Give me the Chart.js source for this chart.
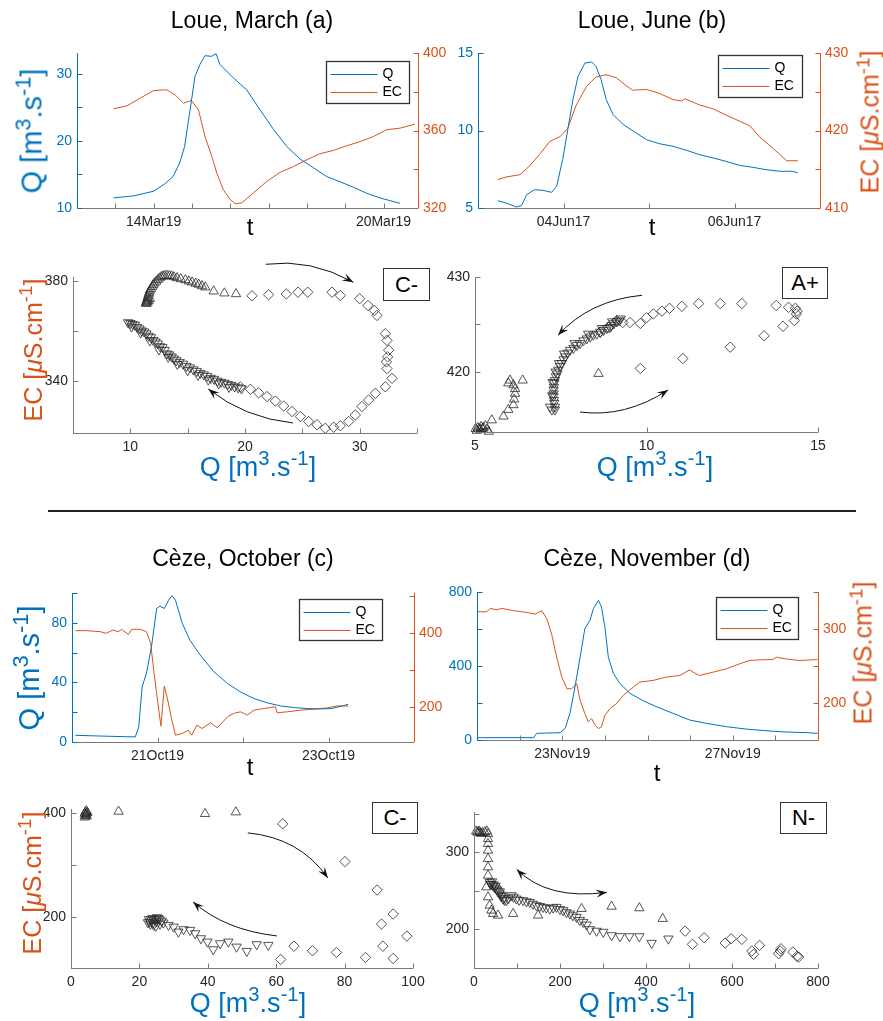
<!DOCTYPE html>
<html>
<head>
<meta charset="utf-8">
<script src="https://cdn.jsdelivr.net/npm/chart.js@4.4.1/dist/chart.umd.min.js"></script>
<style>
  body { margin: 0; background: #fff; }
  #fig { position: relative; width: 883px; height: 1021px; overflow: hidden; font-family: "Liberation Sans", Arial, sans-serif; }
  #fig canvas { position: absolute; }
  .txt { position: absolute; white-space: nowrap; transform: translate(-50%, -50%); line-height: 1; }
  .rot { transform: translate(-50%, -50%) rotate(-90deg); }
  .txt sup { font-size: 0.75em; vertical-align: 0.5em; line-height: 0; }
  .tag { position: absolute; border: 1px solid #333; background: #fff; font-size: 22px; display: flex; align-items: center; justify-content: center; box-sizing: border-box; }
</style>
</head>
<body>
<div id="fig"></div>
<script>
// ---- data ----
// time series: [day, value]
const marchQ = [[12.95,11.5],[13.47,11.8],[14.0,12.5],[14.29,13.6],[14.51,14.7],[14.68,16.7],[14.81,19.2],[14.9,22.7],[14.99,26.1],[15.08,29.6],[15.21,31.4],[15.34,32.7],[15.51,32.6],[15.63,33.0],[15.73,31.4],[16.08,29.4],[16.43,27.6],[16.78,24.6],[17.13,21.7],[17.47,19.2],[17.82,17.3],[18.17,16.0],[18.51,14.7],[18.87,13.9],[19.21,13.1],[19.56,12.2],[19.91,11.5],[20.43,10.7]];
const marchEC = [[12.95,371.2],[13.3,372.7],[13.65,376.7],[14.0,380.6],[14.34,381.0],[14.56,378.4],[14.78,374.1],[14.98,375.5],[15.17,370.7],[15.34,356.9],[15.52,346.6],[15.65,338.0],[15.82,329.4],[16.0,324.3],[16.13,322.2],[16.3,322.6],[16.6,327.7],[16.95,333.7],[17.3,338.4],[17.65,341.4],[18.0,344.9],[18.34,348.0],[18.69,349.7],[19.04,352.1],[19.39,354.3],[19.74,356.9],[20.08,360.4],[20.43,361.2],[20.82,363.3]];

const juneQ = [[3.23,5.47],[3.33,5.32],[3.45,5.06],[3.51,5.17],[3.57,5.86],[3.66,6.18],[3.76,6.14],[3.86,6.01],[3.92,6.4],[3.99,8.12],[4.05,10.05],[4.11,11.99],[4.17,13.49],[4.25,14.35],[4.33,14.42],[4.38,14.14],[4.44,13.28],[4.5,11.99],[4.58,11.02],[4.7,10.38],[4.85,9.84],[4.97,9.41],[5.12,9.15],[5.28,8.98],[5.44,8.72],[5.59,8.44],[5.75,8.23],[5.9,8.01],[6.06,7.75],[6.22,7.62],[6.37,7.47],[6.53,7.37],[6.68,7.37],[6.74,7.26]];
const juneEC = [[3.23,413.66],[3.33,414.0],[3.49,414.3],[3.6,415.4],[3.72,416.9],[3.84,418.6],[3.96,419.2],[4.05,420.3],[4.15,423.3],[4.27,425.7],[4.38,426.9],[4.5,427.2],[4.62,426.8],[4.73,425.8],[4.81,425.2],[4.97,425.3],[5.12,424.8],[5.28,424.0],[5.38,423.8],[5.42,424.1],[5.59,423.3],[5.75,422.8],[5.9,422.0],[6.06,421.2],[6.18,420.6],[6.29,419.2],[6.45,417.7],[6.61,416.1],[6.74,416.1]];

const octQ = [[20.04,4.5],[20.33,4.0],[20.74,3.4],[20.78,10],[20.82,37],[20.87,46],[20.93,64],[20.99,89.6],[21.03,91.2],[21.08,89.6],[21.13,95.2],[21.17,98.2],[21.21,95.2],[21.29,79.6],[21.38,68.3],[21.5,58.3],[21.66,47.1],[21.82,39.2],[21.97,33.6],[22.13,29.1],[22.29,26.2],[22.44,24.2],[22.6,23.1],[22.76,22.4],[22.91,22.2],[23.03,22.4],[23.15,24.0],[23.23,25.3]];
const octEC = [[20.04,405.4],[20.17,405.4],[20.33,402.7],[20.4,398.2],[20.48,407.2],[20.54,402.7],[20.58,409.0],[20.62,401.8],[20.66,395.5],[20.7,409.0],[20.8,409.0],[20.87,402.7],[20.92,371.2],[20.96,290.1],[21.0,218.0],[21.04,147.7],[21.08,255.9],[21.12,218.0],[21.16,173.0],[21.21,123.4],[21.29,127.9],[21.36,136.9],[21.4,123.4],[21.46,150.5],[21.52,141.4],[21.62,156.8],[21.7,143.2],[21.82,173.0],[21.89,182.0],[21.97,186.5],[22.05,177.5],[22.13,191.0],[22.25,195.5],[22.38,200.0],[22.4,183.8],[22.52,186.5],[22.68,191.0],[22.84,193.7],[22.99,197.3],[23.11,202.7],[23.23,201.8]];

const novQ = [[21.0,12.6],[22.33,12.6],[22.4,36],[22.95,39.6],[23.07,63],[23.18,144],[23.3,288],[23.42,449],[23.53,602],[23.65,647],[23.73,710],[23.85,755],[23.92,719],[24.0,611],[24.08,449],[24.2,360],[24.35,306],[24.59,252],[24.9,212],[25.21,180],[25.6,144],[25.99,108],[26.38,90],[26.85,72],[27.32,59],[27.78,50],[28.25,43],[28.72,40],[28.99,36]];
const novEC = [[21.0,323.3],[21.23,323.3],[21.31,327.8],[21.47,326.0],[21.58,327.8],[21.86,324.7],[22.17,322.4],[22.36,320.2],[22.52,324.7],[22.64,313.5],[22.75,293.3],[22.87,261.9],[22.99,235.0],[23.11,219.3],[23.22,219.3],[23.34,226.0],[23.42,203.6],[23.53,185.7],[23.61,174.4],[23.69,178.9],[23.77,170.0],[23.85,165.5],[23.92,167.7],[24.0,183.4],[24.12,192.4],[24.27,199.1],[24.43,210.3],[24.59,217.9],[24.82,228.3],[25.13,230.5],[25.44,235.0],[25.76,237.2],[25.99,244.8],[26.07,241.7],[26.22,237.2],[26.54,241.7],[26.85,246.2],[27.16,252.9],[27.39,257.4],[27.63,258.3],[27.94,258.7],[28.02,261.9],[28.25,259.6],[28.56,257.4],[28.99,258.7]];

// hysteresis: [Q, EC] (rising limb, peak, falling limb)
const marchRise = [[11.35,371.2],[11.4,371.0],[11.4,371.8],[11.5,371.5],[11.45,372.5],[11.6,372.2],[11.5,373.3],[11.7,373.0],[11.55,374.0],[11.6,374.8],[11.65,375.5],[11.7,376.3],[11.8,377.0],[11.9,377.8],[12.0,378.5],[12.1,379.2],[12.25,379.9],[12.4,380.6],[12.55,381.2],[12.7,381.7],[12.85,382.0],[13.0,382.2],[13.2,382.3],[13.4,382.2],[13.6,382.0],[13.8,381.7],[14.07,381.3],[14.4,380.9],[14.8,380.5],[15.1,380.0],[15.38,379.6],[15.7,379.1],[15.96,378.7],[16.25,378.1],[16.54,377.6],[17.27,376.0],[18.2,375.2],[19.22,374.9]];
const marchPeak = [[20.61,374.2],[22.06,374.6],[23.6,374.9],[24.62,375.6],[25.47,375.6],[27.59,375.6],[28.31,374.3],[30.0,373.0],[30.73,370.3],[31.28,368.3],[31.51,366.3],[32.24,359.0],[32.38,356.3],[32.53,352.4],[32.44,349.7],[32.33,347.7],[32.38,345.0],[32.82,341.1],[32.24,337.7],[31.37,335.1],[30.78,332.4],[30.2,329.8],[29.62,326.4],[29.04,323.8],[28.31,322.1],[27.73,321.5],[27.0,321.1],[26.28,322.5],[25.55,323.8],[24.83,325.8],[24.1,327.8],[23.37,330.0],[22.65,332.0],[21.92,333.8],[21.19,335.3],[20.47,336.7],[19.59,337.7]];
const marchFall = [[9.8,363.5],[10.0,363.2],[10.2,362.8],[10.4,362.5],[10.6,361.6],[10.8,361.0],[11.0,360.2],[11.2,359.8],[11.4,359.0],[11.6,358.1],[11.8,357.5],[12.0,356.4],[12.2,355.8],[12.4,355.0],[12.6,353.9],[12.8,353.5],[13.0,352.4],[13.2,351.0],[13.4,350.6],[13.6,349.8],[13.8,349.0],[14.0,348.3],[14.3,347.6],[14.6,346.9],[14.9,346.0],[15.2,345.4],[15.5,344.6],[15.8,344.0],[16.1,343.2],[16.4,342.6],[16.7,342.0],[17.0,341.2],[17.3,340.8],[17.6,340.1],[17.9,339.6],[18.2,339.3],[18.5,338.8],[18.8,338.4],[19.1,337.8],[19.4,337.4],[19.7,337.0],[10.1,361.8],[10.9,359.4],[11.7,356.2],[12.5,352.6],[13.3,349.6],[14.1,346.8],[15.0,344.3],[15.9,342.4],[16.8,340.5],[17.7,339.0],[18.6,337.6]];

const juneRise = [[5.02,414.0],[5.05,413.8],[5.08,414.1],[5.12,414.0],[5.15,413.9],[5.18,414.2],[5.22,414.0],[5.25,414.1],[5.3,414.3],[5.35,413.9],[5.4,413.7],[5.49,414.9],[5.83,415.3],[5.97,416.0],[6.12,416.5],[6.14,417.1],[6.17,417.7],[6.17,418.2],[6.12,418.6],[5.97,418.8],[6.02,419.1],[6.39,419.1],[8.6,419.8]];
const junePeak = [[9.82,420.35],[11.06,421.4],[12.44,422.6],[13.43,423.8],[13.98,424.8],[14.31,425.4],[14.37,426.1],[14.39,426.4],[14.34,426.7],[14.14,426.8],[13.78,427.0],[12.78,427.2],[12.15,427.2],[11.52,427.2],[11.03,426.9],[10.67,426.7],[10.45,426.4],[10.2,426.1],[10.0,425.7],[9.82,425.1],[9.52,425.2],[9.31,425.2],[9.13,425.4],[8.89,424.7],[8.65,424.2]];
const juneFall = [[9.25,425.6],[9.2,425.4],[9.13,425.3],[9.05,425.1],[8.98,424.9],[8.94,424.7],[8.85,424.6],[8.75,424.4],[8.65,424.2],[8.55,424.0],[8.45,423.9],[8.36,423.7],[8.26,423.5],[8.16,423.3],[8.06,423.0],[7.97,422.8],[7.87,422.5],[7.77,422.3],[7.7,422.0],[7.63,421.6],[7.58,421.3],[7.53,420.9],[7.48,420.6],[7.43,420.2],[7.4,419.8],[7.36,419.5],[7.33,419.1],[7.31,418.8],[7.3,418.4],[7.29,418.1],[7.29,417.7],[7.29,417.4],[7.3,417.0],[7.31,416.7],[7.33,416.3],[7.33,416.0],[7.24,416.0],[7.19,416.3],[9.0,425.3],[8.7,424.6],[8.3,424.0],[7.9,423.0],[7.6,421.9],[7.45,420.9],[7.35,420.0],[7.26,418.9],[7.25,417.5]];

const octRise = [[4.0,392],[4.2,395],[4.4,398],[4.6,400],[4.2,402],[4.5,404],[4.8,401],[4.0,399],[4.3,397],[4.6,394],[13.9,403.2],[39.2,398.7],[48.2,401.9]];
const octPeak = [[61.9,379.4],[80.1,306.5],[89.5,251.6],[94.2,205.2],[90.8,185.8],[98.2,162.6],[91.2,143.2],[94.2,119.4],[86.1,121.3],[77.6,131.0],[70.6,134.2],[65.2,143.2],[61.3,117.4]];
const octFall = [[57.7,145.2],[54.3,146.5],[51.4,133.5],[48.4,141.9],[46.0,151.6],[43.6,148.4],[41.6,136.8],[39.9,151.6],[38.0,158.1],[36.3,167.7],[34.8,174.2],[32.9,175.5],[31.4,170.9],[30.0,180.6],[28.5,183.9],[27.0,188.4],[25.9,194.8],[25.1,198.7],[23.0,190],[23.5,193],[24.0,188],[24.5,195],[25.0,191],[23.2,186],[24.2,184],[25.5,197],[26.5,192],[22.8,195],[24.8,182],[26.0,186],[23.8,197],[22.5,189]];

const novRise = [[5,327],[8,326],[10,325],[12,327],[14,325],[17,324],[20,325],[25,326],[30,327],[32.6,323.7],[32.6,317.2],[32.6,310.8],[32.6,302.2],[32.6,291.4],[32.6,280.6],[32.6,269.8],[28.7,254.7],[32.6,241.8],[36.5,231.0],[40.4,224.6],[44.3,220.3],[55.9,218.1],[90.9,220.3],[149.1,218.1],[250.1,226.7],[320.0,229.7],[384.5,227.6],[438.8,213.8]];
const novPeak = [[490.9,197.8],[508.0,180.6],[535.1,189.2],[584.1,182.3],[598.1,187.9],[622.9,187.1],[646.2,172.0],[650.1,167.7],[664.1,179.3],[708.3,168.5],[712.2,172.0],[713.8,175.0],[741.7,170.7],[751.1,165.1],[755.0,164.2]];
const novFall = [[36.5,261.2],[38,259],[40,258.5],[42,262],[44.3,256.9],[46,258],[48,254],[50,256],[52,252.6],[54,251],[56,249],[59.8,246.1],[60,249],[63,243],[65,244],[67.6,239.7],[70,241],[71,238],[75.3,237.5],[80,240],[87,244],[92,242],[98.6,239.7],[105,238],[114.2,237.5],[122,236],[129.7,235.3],[137,233],[145.2,231],[153,230],[160.8,228.9],[168,228],[176.3,226.7],[184,228],[191.8,228.9],[200,226],[207.4,224.6],[215,222],[222.9,220.3],[230,218],[238.4,215.9],[246,212],[254,209.5],[262,206],[269.5,200],[285,198],[300.6,196.6],[320,192.2],[339.4,190.9],[361.2,190.9],[384.5,190.9],[413.2,182.3],[452,187.9]];

// tick values and labels
const marchDays = [12,13,14,15,16,17,18,19,20];
const marchDayLabels = ['','','14Mar19','','','','','','20Mar19'];
const juneDays = [3,4,5,6,7];
const juneDayLabels = ['','04Jun17','','06Jun17',''];
const octDays = [20,21,22,23,24];
const octDayLabels = ['','21Oct19','','23Oct19',''];
const novDays = [21,22,23,24,25,26,27,28,29];
const novDayLabels = ['','','23Nov19','','','','27Nov19','',''];

const BLUE = '#0072BD', ORANGE = '#D95319', DARK = '#262626', AXGREY = '#7a7a7a', MARK = '#2a2a2a';
const FONT = '"Liberation Sans", Arial, sans-serif';
const QLAB = 'Q [m<sup>3</sup>.s<sup>-1</sup>]';
const ECLAB = 'EC [<i>&mu;</i>S.cm<sup>-1</sup>]';

const fig = document.getElementById('fig');
const M = {l: 55, r: 55, t: 30, b: 32};

function mkCanvas(box) {
  const c = document.createElement('canvas');
  const w = box.r - box.l + M.l + M.r, h = box.b - box.t + M.t + M.b;
  c.width = w; c.height = h;
  c.style.left = (box.l - M.l) + 'px';
  c.style.top = (box.t - M.t) + 'px';
  c.style.width = w + 'px'; c.style.height = h + 'px';
  fig.appendChild(c);
  return c;
}

function text(html, x, y, size, color, cls) {
  const d = document.createElement('div');
  d.className = 'txt' + (cls ? ' ' + cls : '');
  d.style.left = x + 'px'; d.style.top = y + 'px';
  d.style.fontSize = size + 'px'; d.style.color = color || '#000';
  d.innerHTML = html;
  fig.appendChild(d);
}

function tag(label, l, t, r, b) {
  const d = document.createElement('div');
  d.className = 'tag';
  d.style.left = l + 'px'; d.style.top = t + 'px';
  d.style.width = (r - l) + 'px'; d.style.height = (b - t) + 'px';
  d.textContent = label;
  fig.appendChild(d);
}

function axis(pos, min, max, vals, labels, lineCol, labelCol, size) {
  return {
    type: 'linear', position: pos, min: min, max: max,
    grid: {display: false, drawTicks: false},
    border: {display: false, color: lineCol},
    ticks: {color: labelCol, font: {family: FONT, size: 14}, padding: pos === 'bottom' ? 6 : 5,
            maxRotation: 0, autoSkip: false, callback: (v, i) => labels[i]},
    afterBuildTicks: s => { s.ticks = vals.map(v => ({value: v})); },
    afterFit: s => { if (s.isHorizontal()) s.height = size; else s.width = size; }
  };
}

// MATLAB-like axis lines with inward ticks
const inTicks = {
  id: 'inTicks',
  afterDraw(chart) {
    const ctx = chart.ctx, a = chart.chartArea;
    ctx.save();
    ctx.lineWidth = 1;
    Object.values(chart.scales).forEach(s => {
      ctx.strokeStyle = s.options.border.color;
      ctx.beginPath();
      if (s.isHorizontal()) {
        const y = Math.round(a.bottom) + 0.5;
        ctx.moveTo(a.left, y); ctx.lineTo(a.right, y);
        s.ticks.forEach((t, i) => { const x = Math.round(s.getPixelForTick(i)) + 0.5; ctx.moveTo(x, y); ctx.lineTo(x, y - 5); });
      } else {
        const left = s.position === 'left';
        const x = Math.round(left ? a.left : a.right) + 0.5, d = left ? 5 : -5;
        ctx.moveTo(x, a.top); ctx.lineTo(x, a.bottom);
        s.ticks.forEach((t, i) => { const y = Math.round(s.getPixelForTick(i)) + 0.5; ctx.moveTo(x, y); ctx.lineTo(x + d, y); });
      }
      ctx.stroke();
    });
    ctx.restore();
  }
};

// boxed legend inside the axes, placed relative to the plot area
function boxLegend(x, y, w, h) {
  return {
    id: 'boxLegend',
    afterDraw(chart) {
      const ctx = chart.ctx, a = chart.chartArea;
      const bx = Math.round(a.left + x) + 0.5, by = Math.round(a.top + y) + 0.5;
      ctx.save();
      ctx.fillStyle = '#fff';
      ctx.fillRect(bx, by, w, h);
      ctx.strokeStyle = '#333'; ctx.lineWidth = 1.3;
      ctx.strokeRect(bx, by, w, h);
      ctx.font = '14px ' + FONT; ctx.textBaseline = 'middle'; ctx.fillStyle = '#000';
      chart.data.datasets.forEach((ds, i) => {
        const ry = by + 13 + i * 18;
        ctx.strokeStyle = ds.borderColor; ctx.lineWidth = 1;
        ctx.beginPath(); ctx.moveTo(bx + 4, ry); ctx.lineTo(bx + 51, ry); ctx.stroke();
        ctx.fillText(ds.label, bx + 56, ry);
      });
      ctx.restore();
    }
  };
}

// curved arrows given in data coordinates
function arrows(list) {
  return {
    id: 'arrows',
    afterDraw(chart) {
      const ctx = chart.ctx, sx = chart.scales.x, sy = chart.scales.y;
      const P = p => [sx.getPixelForValue(p[0]), sy.getPixelForValue(p[1])];
      const head = (tip, from) => {
        const ang = Math.atan2(tip[1] - from[1], tip[0] - from[0]);
        const L = 11, W = 4;
        ctx.beginPath();
        ctx.moveTo(tip[0], tip[1]);
        ctx.lineTo(tip[0] - L * Math.cos(ang) + W * Math.sin(ang), tip[1] - L * Math.sin(ang) - W * Math.cos(ang));
        ctx.lineTo(tip[0] - 0.6 * L * Math.cos(ang), tip[1] - 0.6 * L * Math.sin(ang));
        ctx.lineTo(tip[0] - L * Math.cos(ang) - W * Math.sin(ang), tip[1] - L * Math.sin(ang) + W * Math.cos(ang));
        ctx.closePath(); ctx.fill();
      };
      ctx.save();
      ctx.strokeStyle = '#111'; ctx.fillStyle = '#111'; ctx.lineWidth = 1;
      list.forEach(ar => {
        const p0 = P(ar.from), c = P(ar.ctrl), p1 = P(ar.to);
        ctx.beginPath(); ctx.moveTo(p0[0], p0[1]); ctx.quadraticCurveTo(c[0], c[1], p1[0], p1[1]); ctx.stroke();
        head(p1, c);
        if (ar.both) head(p0, c);
      });
      ctx.restore();
    }
  };
}

function timeChart(box, qData, ecData, xr, yq, yec, legendPos) {
  const c = mkCanvas(box);
  new Chart(c, {
    type: 'line',
    data: {datasets: [
      {label: 'Q', data: qData.map(p => ({x: p[0], y: p[1]})), yAxisID: 'y', borderColor: BLUE, borderWidth: 1, pointRadius: 0, tension: 0},
      {label: 'EC', data: ecData.map(p => ({x: p[0], y: p[1]})), yAxisID: 'y2', borderColor: ORANGE, borderWidth: 1, pointRadius: 0, tension: 0}
    ]},
    options: {
      responsive: false, animation: false, events: [],
      layout: {padding: {top: M.t, left: 0, right: 0, bottom: 0}},
      plugins: {legend: {display: false}, tooltip: {enabled: false}},
      scales: {
        x: axis('bottom', xr[0], xr[1], xr[2], xr[3], AXGREY, DARK, M.b),
        y: axis('left', yq[0], yq[1], yq[2], yq[3], BLUE, BLUE, M.l),
        y2: axis('right', yec[0], yec[1], yec[2], yec[3], ORANGE, ORANGE, M.r)
      }
    },
    plugins: [inTicks, boxLegend(legendPos[0], legendPos[1], legendPos[2], legendPos[3])]
  });
}

function loopChart(box, rise, peak, fall, xr, yr, arrowList) {
  const c = mkCanvas(box);
  const ds = (arr, style, rot, r) => ({
    data: arr.map(p => ({x: p[0], y: p[1]})), pointStyle: style, rotation: rot, pointRadius: r,
    borderColor: MARK, backgroundColor: 'rgba(0,0,0,0)', borderWidth: 0.8, clip: false
  });
  new Chart(c, {
    type: 'scatter',
    data: {datasets: [ds(rise, 'triangle', 0, 5.4), ds(peak, 'rectRot', 0, 5.2), ds(fall, 'triangle', 180, 5.4)]},
    options: {
      responsive: false, animation: false, events: [],
      layout: {padding: {top: M.t, left: 0, right: M.r, bottom: 0}},
      plugins: {legend: {display: false}, tooltip: {enabled: false}},
      scales: {
        x: axis('bottom', xr[0], xr[1], xr[2], xr[3], AXGREY, DARK, M.b),
        y: axis('left', yr[0], yr[1], yr[2], yr[3], AXGREY, DARK, M.l)
      }
    },
    plugins: [inTicks, arrows(arrowList)]
  });
}

// ---- Loue, March (a) ----
timeChart({l: 77, t: 53, r: 418, b: 208}, marchQ, marchEC,
  [12, 20.9, marchDays, marchDayLabels],
  [10, 33.1, [10,15,20,25,30], ['10','','20','','30']],
  [320, 400, [320,340,360,380,400], ['320','','360','','400']],
  [249, 8, 83, 42]);
loopChart({l: 73, t: 277, r: 417, b: 433}, marchRise, marchPeak, marchFall,
  [5, 35, [5,10,15,20,25,30,35], ['','10','','20','','30','']],
  [319.2, 381.7, [340,360,380], ['340','','380']],
  [{from: [21.8, 386.8], ctrl: [25.7, 389.2], to: [29.45, 379.6]},
   {from: [24.2, 323.2], ctrl: [20.0, 325.2], to: [16.8, 336.8]}]);

// ---- Loue, June (b) ----
timeChart({l: 478, t: 53, r: 820, b: 208}, juneQ, juneEC,
  [3, 7, juneDays, juneDayLabels],
  [5, 15, [5,10,15], ['5','10','15']],
  [410, 430, [410,415,420,425,430], ['410','','420','','430']],
  [240, 2, 84, 42]);
loopChart({l: 475, t: 277, r: 818, b: 432}, juneRise, junePeak, juneFall,
  [5, 15, [5,10,15], ['5','10','15']],
  [413.65, 430, [420,425,430], ['420','','430']],
  [{from: [9.87, 428.07], ctrl: [8.35, 427.55], to: [7.42, 423.86]},
   {from: [8.06, 415.76], ctrl: [9.37, 415.13], to: [10.63, 418.08]}]);

// ---- Cèze, October (c) ----
timeChart({l: 72, t: 593, r: 414, b: 742}, octQ, octEC,
  [20, 24, octDays, octDayLabels],
  [0, 100, [0,20,40,60,80,100], ['0','','40','','80','']],
  [105, 507, [200,300,400,500], ['200','','400','']],
  [227, 6, 83, 41]);
loopChart({l: 71, t: 809, r: 413, b: 968}, octRise, octPeak, octFall,
  [0, 100, [0,20,40,60,80,100], ['0','20','40','60','80','100']],
  [101, 408, [200,300,400], ['200','','400']],
  [{from: [51.7, 361.9], ctrl: [66.9, 352.2], to: [75.1, 274.9]},
   {from: [60.2, 162.9], ctrl: [45.0, 174.4], to: [35.7, 228.6]}]);

// ---- Cèze, November (d) ----
timeChart({l: 477, t: 592, r: 818, b: 740}, novQ, novEC,
  [21, 29, novDays, novDayLabels],
  [0, 800, [0,200,400,600,800], ['0','','400','','800']],
  [150, 350, [150,200,250,300,350], ['','200','','300','']],
  [239, 5, 82, 42]);
loopChart({l: 474, t: 812, r: 818, b: 968}, novRise, novPeak, novFall,
  [0, 800, [0,100,200,300,400,500,600,700,800], ['0','','200','','400','','600','','800']],
  [150, 352, [200,250,300,350], ['200','','300','']],
  [{from: [99.5, 277.6], ctrl: [171.8, 237.6], to: [309.3, 248], both: true}]);

// ---- text ----
text('Loue, March (a)', 252, 20, 23);
text('Loue, June (b)', 652, 20, 23);
text('C&egrave;ze, October (c)', 243, 558, 23);
text('C&egrave;ze, November (d)', 647, 558, 23);

text('t', 250, 227, 24);
text('t', 652, 227, 24);
text('t', 250, 767, 24);
text('t', 657, 773, 24);

text(QLAB, 32, 131, 29, BLUE, 'rot');
text(ECLAB, 870, 122, 25, ORANGE, 'rot');
text(QLAB, 29, 668, 29, BLUE, 'rot');
text(ECLAB, 863, 653, 25, ORANGE, 'rot');

text(ECLAB, 33, 350, 25, ORANGE, 'rot');
text(QLAB, 258, 467, 27, BLUE);
text(QLAB, 655, 467, 27, BLUE);
text(ECLAB, 32, 883, 25, ORANGE, 'rot');
text(QLAB, 248, 1003, 27, BLUE);
text(QLAB, 637, 1003, 27, BLUE);

tag('C-', 383, 268, 430, 301);
tag('A+', 782, 267, 828, 299);
tag('C-', 372, 802, 418, 834);
tag('N-', 780, 802, 827, 834);

const sep = document.createElement('div');
sep.style.cssText = 'position:absolute;left:48px;top:510px;width:808px;height:2px;background:#222;';
fig.appendChild(sep);
</script>
</body>
</html>
